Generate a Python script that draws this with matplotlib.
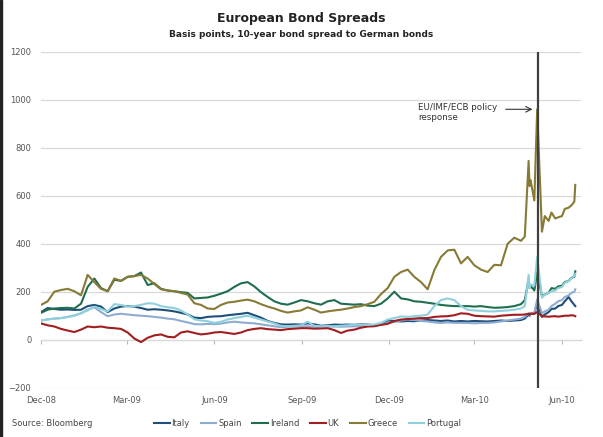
import numpy as np
import pandas as pd
import matplotlib
matplotlib.use("Agg")
import matplotlib.pyplot as plt
import matplotlib.dates as mdates
from matplotlib.patches import Rectangle

plt.rcParams['font.family'] = ['DejaVu Sans']

# weekly readings Dec-08 .. 19 Apr 2010, then denser around the May 2010 spike
weekly = pd.date_range('2008-12-01', periods=73, freq='7D')
tail = pd.to_datetime(['2010-04-23', '2010-04-27', '2010-04-28', '2010-04-29', '2010-05-03',
                       '2010-05-06', '2010-05-11', '2010-05-14', '2010-05-18', '2010-05-21',
                       '2010-05-25', '2010-05-28', '2010-06-01', '2010-06-04', '2010-06-08',
                       '2010-06-11', '2010-06-14', '2010-06-15'])
dates = weekly.append(tail)

italy = [115, 132, 128, 125, 126, 124, 125, 140, 145, 138,
         115, 130, 138, 140, 138, 132, 125, 127, 125, 122,
         118, 112, 105, 92, 90, 95, 97, 98, 102, 105,
         108, 112, 102, 92, 78, 70, 64, 63, 64, 63,
         68, 64, 58, 60, 63, 62, 63, 62, 64, 63,
         60, 62, 80, 78, 76, 78, 77, 80, 82, 80,
         78, 80, 76, 78, 76, 78, 77, 76, 78, 80,
         78, 80, 82,
         88, 105, 100, 110, 108, 155, 95, 105, 115, 128, 130, 140, 145, 160, 178, 160, 145, 140]

spain = [80, 85, 88, 90, 95, 100, 110, 125, 135, 115,
         98, 105, 108, 105, 102, 100, 98, 95, 92, 88,
         85, 78, 72, 65, 64, 66, 65, 67, 72, 75,
         72, 70, 68, 64, 60, 56, 52, 54, 55, 55,
         56, 54, 52, 54, 55, 54, 55, 56, 55, 58,
         60, 64, 70, 74, 80, 84, 82, 78, 76, 72,
         70, 72, 70, 70, 70, 68, 70, 70, 72, 76,
         80, 84, 88,
         95, 110, 105, 112, 110, 168, 110, 118, 125, 140, 150, 160, 165, 178, 185, 195, 200, 210]

ireland = [112, 125, 130, 132, 133, 130, 150, 220, 255, 215,
           202, 250, 245, 262, 265, 280, 228, 235, 212, 205,
           202, 198, 195, 172, 174, 176, 183, 192, 202, 220,
           235, 240, 222, 198, 178, 160, 150, 146, 155, 165,
           160, 152, 146, 160, 165, 150, 148, 146, 148, 142,
           140, 150, 172, 200, 172, 168, 160, 158, 154, 150,
           145, 142, 140, 140, 140, 138, 140, 136, 133, 134,
           136, 140, 148,
           165, 250, 215, 225, 205, 280, 182, 188, 195, 215, 212, 222, 225, 240, 245, 258, 262, 285]

uk = [68, 60, 55, 45, 38, 32, 42, 55, 52, 55,
      50, 48, 45, 30, 5, -10, 8, 18, 22, 12,
      10, 30, 35, 28, 22, 25, 30, 32, 28, 24,
      30, 40, 45, 48, 44, 42, 40, 44, 46, 48,
      48, 46, 47, 48, 40, 28, 38, 42, 50, 55,
      56, 62, 66, 78, 84, 86, 88, 90, 90, 95,
      97, 98, 102, 110, 108, 100, 98, 97, 96, 100,
      102, 104, 104,
      105, 108, 106, 108, 108, 115, 98, 97, 96, 97, 98, 96, 98, 100, 100, 102, 100, 98]

greece = [145, 160, 200, 207, 212, 202, 185, 270, 240, 212,
          202, 255, 245, 262, 265, 270, 255, 232, 210, 205,
          202, 195, 188, 152, 145, 130, 128, 145, 155, 158,
          163, 167, 160, 148, 138, 130, 120, 113, 118, 122,
          135, 125, 113, 118, 122, 125, 130, 136, 140, 148,
          158, 190, 215, 262, 282, 292, 262, 240, 210, 290,
          345, 372, 375, 318, 345, 310, 292, 282, 312, 310,
          400, 425, 412,
          430, 745, 640, 665, 580, 960, 450, 515, 495, 530, 505, 510, 515, 545, 550, 560, 575, 645]

portugal = [80, 84, 88, 90, 95, 102, 110, 122, 138, 128,
            118, 148, 145, 138, 140, 145, 152, 150, 140, 135,
            132, 122, 105, 85, 80, 77, 70, 75, 84, 90,
            95, 100, 92, 84, 76, 68, 58, 56, 58, 60,
            75, 58, 56, 57, 56, 58, 60, 62, 63, 62,
            64, 70, 84, 90, 97, 95, 98, 100, 105, 140,
            165, 172, 165, 140, 125, 122, 120, 118, 118, 120,
            122, 125, 130,
            140, 270, 215, 230, 225, 345, 175, 188, 195, 202, 205, 215, 220, 237, 245, 258, 265, 275]

names = ['Italy', 'Spain', 'Ireland', 'UK', 'Greece', 'Portugal']
series = [italy, spain, ireland, uk, greece, portugal]
colors = ['#1f4e79', '#8eacd2', '#1f6e4e', '#a21d1f', '#877a35', '#8fd0dd']

tick_dates = pd.to_datetime(['2008-12-01', '2009-03-01', '2009-06-01', '2009-09-01',
                             '2009-12-01', '2010-03-01', '2010-06-01'])
policy_date = pd.Timestamp('2010-05-07')

fig = plt.figure(figsize=(6.03, 4.37), dpi=100)
ax = fig.add_axes([0.068, 0.1128, 0.8955, 0.7689])

for s, name, c in zip(series, names, colors):
    ax.plot(dates, s, color=c, lw=1.5, label=name)

ax.set_ylim(-200, 1200)
ax.set_xlim(pd.Timestamp('2008-12-01'), pd.Timestamp('2010-06-21'))
ax.set_yticks(np.arange(-200, 1201, 200))
ax.yaxis.grid(True, color='#d9d9d9', lw=0.9)
ax.set_axisbelow(True)
for sp in ax.spines.values():
    sp.set_visible(False)
ax.tick_params(axis='y', length=0, pad=7, labelsize=6, labelcolor='#555555')
ax.set_xticks(tick_dates)
ax.xaxis.set_major_formatter(mdates.DateFormatter('%b-%y'))
ax.tick_params(axis='x', length=0, pad=6, labelsize=6, labelcolor='#555555')

# zero line with small tick marks
zero = ax.secondary_xaxis(200 / 1400)
zero.set_xticks(tick_dates)
zero.tick_params(axis='x', direction='out', length=3, color='#b8b8b8', labelbottom=False, labeltop=False)
zero.spines['bottom'].set_color('#b8b8b8')
zero.spines['top'].set_color('#b8b8b8')

ax.axvline(policy_date, color='#404040', lw=1.6)
ax.annotate('', xy=(pd.Timestamp('2010-05-04'), 960), xytext=(pd.Timestamp('2010-03-31'), 960),
            arrowprops=dict(arrowstyle='->', lw=0.8, color='#333333'))
ax.text(pd.Timestamp('2010-01-01'), 985, 'EU/IMF/ECB policy\nresponse', fontsize=6.3,
        va='top', ha='left', color='#333333', linespacing=1.15)

fig.text(0.5, 0.958, 'European Bond Spreads', ha='center', va='center', fontsize=9,
         fontweight='bold', color='#222222')
fig.text(0.5, 0.922, 'Basis points, 10-year bond spread to German bonds', ha='center',
         va='center', fontsize=6.5, fontweight='bold', color='#222222')
fig.text(0.02, 0.03, 'Source: Bloomberg', ha='left', va='center', fontsize=6, color='#444444')

leg = fig.legend(loc='center', bbox_to_anchor=(0.51, 0.03), ncol=6, frameon=False,
                 fontsize=6, handlelength=1.9, handletextpad=0.2, columnspacing=1.3)
for t in leg.get_texts():
    t.set_color('#444444')

fig.patches.append(Rectangle((0, 0), 2 / 603, 1, transform=fig.transFigure,
                             color='#222222', zorder=5))

fig.savefig('out.png', dpi=100)
